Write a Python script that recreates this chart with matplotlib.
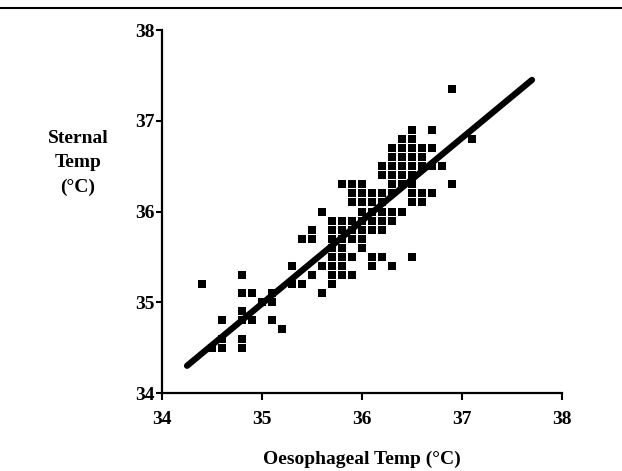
import matplotlib.pyplot as plt
from matplotlib.lines import Line2D

plt.rcParams['font.family'] = ['Liberation Serif', 'DejaVu Serif']
plt.rcParams['font.weight'] = 'bold'

# oesophageal temp -> list of sternal temps read at that x
points = {
    34.4: [35.2],
    34.5: [34.5],
    34.6: [34.5, 34.6, 34.8],
    34.8: [34.5, 34.6, 34.8, 34.9, 35.1, 35.3],
    34.9: [34.8, 35.1],
    35.0: [35.0],
    35.1: [34.8, 35.0, 35.1],
    35.2: [34.7],
    35.3: [35.2, 35.4],
    35.4: [35.2, 35.7],
    35.5: [35.3, 35.7, 35.8],
    35.6: [35.1, 35.4, 36.0],
    35.7: [35.2, 35.3, 35.4, 35.5, 35.6, 35.7, 35.8, 35.9],
    35.8: [35.3, 35.4, 35.5, 35.6, 35.7, 35.8, 35.9, 36.3],
    35.9: [35.3, 35.5, 35.7, 35.8, 35.9, 36.1, 36.2, 36.3],
    36.0: [35.6, 35.7, 35.8, 35.9, 36.0, 36.1, 36.2, 36.3],
    36.1: [35.4, 35.5, 35.8, 35.9, 36.0, 36.1, 36.2],
    36.2: [35.5, 35.8, 35.9, 36.0, 36.1, 36.2, 36.4, 36.5],
    36.3: [35.4, 35.9, 36.0, 36.2, 36.3, 36.4, 36.5, 36.6, 36.7],
    36.4: [36.0, 36.3, 36.4, 36.5, 36.6, 36.7, 36.8],
    36.5: [35.5, 36.1, 36.2, 36.3, 36.4, 36.5, 36.6, 36.7, 36.8, 36.9],
    36.6: [36.1, 36.2, 36.5, 36.6, 36.7],
    36.7: [36.2, 36.5, 36.7, 36.9],
    36.8: [36.5],
    36.9: [36.3, 37.35],
    37.1: [36.8],
}

# regression line end points
line_x = [34.25, 37.7]
line_y = [34.3, 37.45]

ticks = [34, 35, 36, 37, 38]

xs = [x for x, ys in points.items() for y in ys]
ys = [y for x, yy in points.items() for y in yy]

fig = plt.figure(figsize=(6.22, 4.71), dpi=100)
ax = fig.add_axes([0.2605, 0.1656, 0.643, 0.7707])

ax.scatter(xs, ys, marker='s', s=30, color='black', linewidths=0, zorder=3)
ax.plot(line_x, line_y, color='black', lw=4.5, solid_capstyle='round', zorder=4)

ax.set_xlim(34, 38)
ax.set_ylim(34, 38)
ax.set_xticks(ticks)
ax.set_yticks(ticks)
ax.spines['top'].set_visible(False)
ax.spines['right'].set_visible(False)
for s in ['left', 'bottom']:
    ax.spines[s].set_linewidth(1.6)
ax.tick_params(axis='x', direction='out', length=5, width=1.5, labelsize=14, pad=8)
ax.tick_params(axis='y', direction='out', length=4, width=1.5, labelsize=14, pad=1)

ax.set_xlabel('Oesophageal Temp (°C)', fontsize=14, fontweight='bold', labelpad=16)
fig.text(78 / 622, 1 - 163 / 471, 'Sternal\nTemp\n(°C)', ha='center', va='center',
         fontsize=14, fontweight='bold', linespacing=1.55)

# scanned page rule at the top
fig.add_artist(Line2D([0, 1], [0.984, 0.984], color='black', lw=1.5))

fig.savefig('out.png', dpi=100)
